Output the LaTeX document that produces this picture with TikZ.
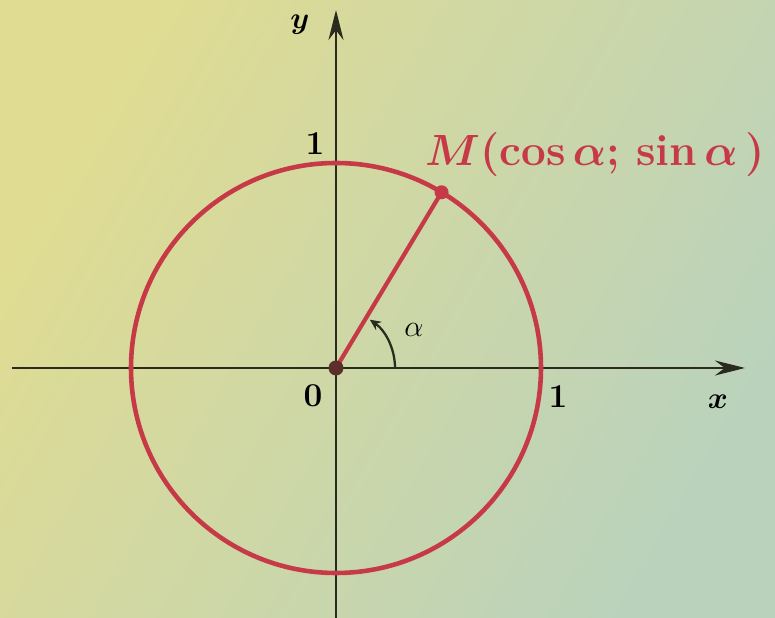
\documentclass[tikz,border=0pt]{standalone}
\usepackage{bm}
\usetikzlibrary{arrows.meta,calc}
\usepackage{tkz-euclide}
\definecolor{CircleClr}{RGB}{198,58,72}
\definecolor{AxisClr}{RGB}{42,42,30}
\definecolor{DotClr}{RGB}{92,48,40}
\definecolor{BgLeft}{RGB}{224,220,146}
\definecolor{BgRight}{RGB}{186,210,188}

\begin{document}
\begin{tikzpicture}[font=\fontsize{19}{22}\selectfont\bfseries]
\tkzSetUpLine[line width=2.6pt,color=CircleClr]

\tkzDefPoints{0/0/O,4.1/0/A,-6.48/0/X1,8.18/0/X2,0/-5.0/Y1,0/7.16/Y2}
\tkzDefPoint(59:4.1){M}

% background
\useasboundingbox (-6.72,-5.0) rectangle (8.78,7.36);
\shade[left color=BgLeft,right color=BgRight,shading angle=60] (-6.72,-5.0) rectangle (8.78,7.36);

% axes
\draw[line width=1.6pt,color=AxisClr,-{Stealth[length=0.6cm,width=0.3cm]}] (X1) -- (X2);
\draw[line width=1.6pt,color=AxisClr,-{Stealth[length=0.6cm,width=0.3cm]}] (Y1) -- (Y2);

\tkzDrawCircle[line width=2.6pt,color=CircleClr](O,A)
\tkzDrawSegments[line width=2.4pt,color=CircleClr](O,M)

% angle alpha
\draw[line width=1.3pt,color=AxisClr,-{Stealth[length=0.22cm,width=0.2cm]}] ($(O)+(1.18,0)$) arc[start angle=0,end angle=55,radius=1.18];

\fill[CircleClr] (M) circle (0.14);
\fill[DotClr] (O) circle (0.15);

\node (lblM) [anchor=west,text=CircleClr,font=\fontsize{25}{28}\selectfont\bfseries] at (1.66,4.26) {$\bm{M}$(cos\,$\bm{\alpha}$; sin\,$\bm{\alpha}$\,)};
\node (lblA) at (1.56,0.76) {\mdseries$\alpha$};
\node (lblO) at (-0.46,-0.56) {0};
\node (lblX1) at (4.44,-0.58) {1};
\node (lblY1) at (-0.42,4.48) {1};
\node (lblx) at (7.64,-0.68) {$\bm{x}$};
\node (lbly) at (-0.72,6.86) {$\bm{y}$};

\end{tikzpicture}
\end{document}
